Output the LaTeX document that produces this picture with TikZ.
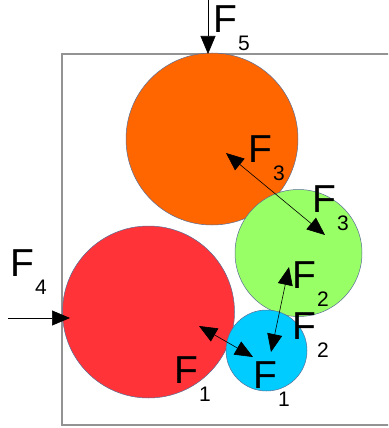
\documentclass[tikz,border=0pt]{standalone}
\usepackage{fontspec}
\setmainfont{Liberation Sans}
\usetikzlibrary{arrows.meta}
\definecolor{corange}{RGB}{255,102,0}
\definecolor{cred}{RGB}{255,51,56}
\definecolor{cgreen}{RGB}{153,255,102}
\definecolor{cblue}{RGB}{0,204,255}
\definecolor{cedge}{RGB}{90,110,150}
\newcommand{\flab}[1]{F\kern1pt\raisebox{-18pt}{\fontsize{21}{21}\selectfont #1}}
\begin{document}
\begin{tikzpicture}[x=1pt,y=-1pt,
  ball/.style={circle,draw=cedge,line width=0.5pt,inner sep=0pt,minimum size=#1},
  force/.style={draw=black,line width=0.6pt,-{Triangle[length=18pt,width=15pt]}},
  dforce/.style={draw=black,line width=0.6pt,{Triangle[length=18pt,width=15pt]}-{Triangle[length=18pt,width=15pt]}},
  lab/.style={anchor=base west,inner sep=0pt,font=\fontsize{39}{39}\selectfont}]
\useasboundingbox (0,0) rectangle (388,428);
\begin{scope}
\clip (0,0) rectangle (388,428);
\draw[draw=gray!85,line width=1.1pt] (62,54) rectangle (400,425);
\end{scope}
\node[ball=172pt,fill=corange] (orange) at (212,139) {};
\node[ball=172pt,fill=cred] (red) at (148.5,312) {};
\node[ball=127pt,fill=cgreen] (green) at (298.5,253) {};
\node[ball=81pt,fill=cblue] (blue) at (266.5,350.5) {};
% force endpoints
\coordinate (f5s) at (208,0);
\coordinate (f5e) at (208,54);
\coordinate (f4s) at (8,318);
\coordinate (f4e) at (70,318);
\coordinate (f3a) at (226,153);
\coordinate (f3b) at (325,235);
\coordinate (f2a) at (289,267);
\coordinate (f2b) at (271,352);
\coordinate (f1a) at (199,326);
\coordinate (f1b) at (253,357);
\draw[force] (f5s) -- (f5e);
\draw[force] (f4s) -- (f4e);
\draw[dforce] (f3a) -- (f3b);
\draw[dforce] (f2a) -- (f2b);
\draw[dforce] (f1a) -- (f1b);
% labels
\node[lab] (l5) at (213,33) {\flab{5}};
\node[lab] (l4) at (10,276) {\flab{4}};
\node[lab] (l3a) at (248,162) {\flab{3}};
\node[lab] (l3b) at (312,212) {\flab{3}};
\node[lab] (l2a) at (292,288) {\flab{2}};
\node[lab] (l2b) at (292,339) {\flab{2}};
\node[lab] (l1a) at (174,383) {\flab{1}};
\node[lab] (l1b) at (253,388) {\flab{1}};
\end{tikzpicture}
\end{document}
